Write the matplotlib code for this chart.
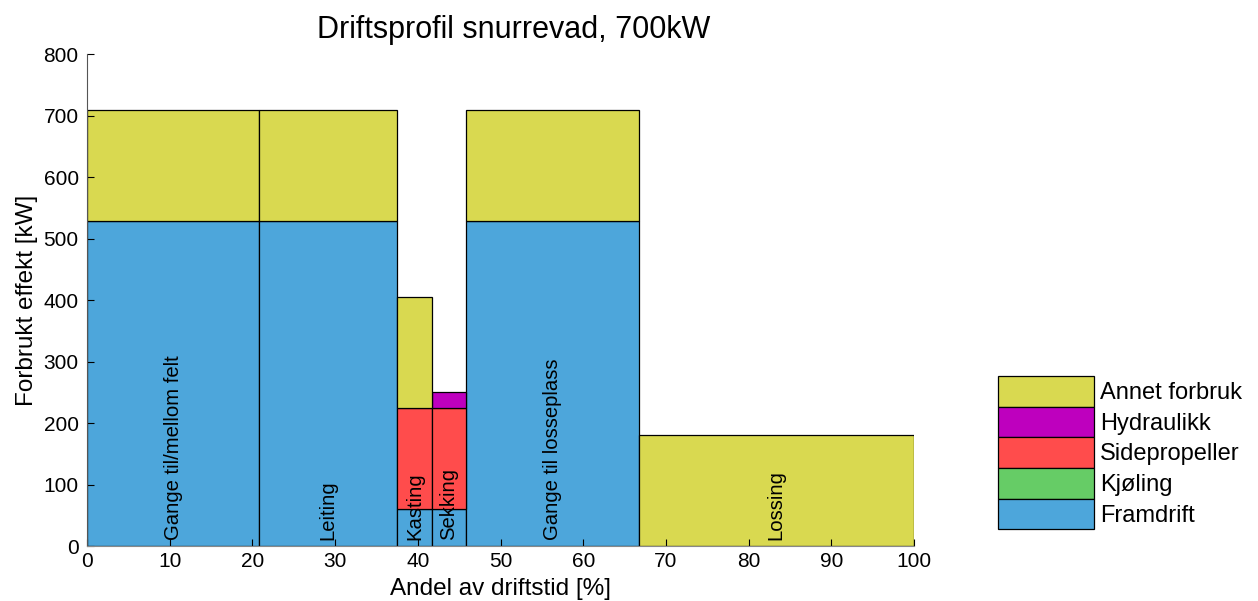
import numpy as np
import matplotlib
matplotlib.use('Agg')
import matplotlib.pyplot as plt
from matplotlib.patches import Patch

plt.rcParams['font.family'] = ['Liberation Sans', 'DejaVu Sans']

# driftsfaser og andel av driftstid [%]
faser = ['Gange til/mellom felt', 'Leiting', 'Kasting', 'Sekking',
         'Gange til losseplass', 'Lossing']
andel = [20.83, 16.67, 4.17, 4.17, 20.83, 33.33]

# effektforbruk per fase [kW]
framdrift = [529, 529, 60, 60, 529, 0]
kjoling = [0, 0, 0, 0, 0, 0]
sidepropeller = [0, 0, 165, 165, 0, 0]
hydraulikk = [0, 0, 0, 26, 0, 0]
annet = [180, 180, 180, 0, 180, 181]

serier = ['Framdrift', 'Kjøling', 'Sidepropeller', 'Hydraulikk', 'Annet forbruk']
verdier = [framdrift, kjoling, sidepropeller, hydraulikk, annet]
farger = ['#4DA6DB', '#66CC66', '#FF4C4C', '#BE00BE', '#D9D950']

fig = plt.figure(figsize=(12.58, 6.01), dpi=100)
ax = fig.add_axes([0.0692, 0.0915, 0.6575, 0.8185])

venstre = np.concatenate([[0], np.cumsum(andel)[:-1]])
bredde = np.array(andel)
bunn = np.zeros(len(faser))
for navn, v, c in zip(serier, verdier, farger):
    v = np.array(v, dtype=float)
    m = v > 0
    ax.bar(venstre[m], v[m], width=bredde[m], bottom=bunn[m], align='edge',
           color=c, edgecolor='black', linewidth=0.9)
    bunn += v

# tekst i stolpene
for x0, w, f in zip(venstre, bredde, faser):
    ax.text(x0 + w / 2, 10, f, rotation=90, ha='center', va='bottom', fontsize=14.6)

ax.set_xlim(0, 100)
ax.set_ylim(0, 800)
ax.set_xticks(np.arange(0, 101, 10))
ax.set_yticks(np.arange(0, 801, 100))
ax.tick_params(direction='in', length=5, labelsize=15)
ax.tick_params(axis='x', pad=4)
ax.tick_params(axis='y', pad=6)
ax.spines['top'].set_visible(False)
ax.spines['right'].set_visible(False)
ax.spines['left'].set_color('#555555')
ax.spines['bottom'].set_color('#888888')
ax.set_xlabel('Andel av driftstid [%]', fontsize=17.5, labelpad=5)
ax.set_ylabel('Forbrukt effekt [kW]', fontsize=17.5, labelpad=4)
fig.text(514 / 1258, 1 - 30 / 601, 'Driftsprofil snurrevad, 700kW',
         ha='center', va='center', fontsize=22)

handles = [Patch(facecolor=c, edgecolor='black', linewidth=0.9) for c in farger[::-1]]
fig.legend(handles, serier[::-1], loc='upper left',
           bbox_to_anchor=(998 / 1258, 1 - 376 / 601), frameon=False,
           fontsize=17, handlelength=4.07, handleheight=1.62, labelspacing=0,
           handletextpad=0.25, borderpad=0, borderaxespad=0)

plt.savefig('out.png', dpi=100)
